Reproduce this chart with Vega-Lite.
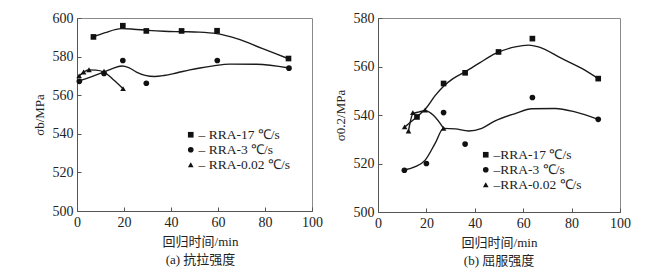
{
  "$schema": "https://vega.github.io/schema/vega-lite/v6.json",
  "padding": {"left": 32, "top": 10, "right": 0, "bottom": 0},
  "background": "white",
  "datasets": {
    "a_pts": [
      {"series": "RRA-17 ℃/s", "t": 7, "s": 590.2},
      {"series": "RRA-17 ℃/s", "t": 19.5, "s": 596},
      {"series": "RRA-17 ℃/s", "t": 29.5, "s": 593.3},
      {"series": "RRA-17 ℃/s", "t": 44.5, "s": 593.3},
      {"series": "RRA-17 ℃/s", "t": 59.6, "s": 593.4},
      {"series": "RRA-17 ℃/s", "t": 90, "s": 579},
      {"series": "RRA-3 ℃/s", "t": 1, "s": 567.2},
      {"series": "RRA-3 ℃/s", "t": 11.5, "s": 571.3},
      {"series": "RRA-3 ℃/s", "t": 19.5, "s": 578},
      {"series": "RRA-3 ℃/s", "t": 29.5, "s": 566.2},
      {"series": "RRA-3 ℃/s", "t": 59.7, "s": 578},
      {"series": "RRA-3 ℃/s", "t": 90.2, "s": 574},
      {"series": "RRA-0.02 ℃/s", "t": 0.9, "s": 570},
      {"series": "RRA-0.02 ℃/s", "t": 2.8, "s": 572},
      {"series": "RRA-0.02 ℃/s", "t": 5.1, "s": 573.2},
      {"series": "RRA-0.02 ℃/s", "t": 11.5, "s": 572.4},
      {"series": "RRA-0.02 ℃/s", "t": 19.6, "s": 563.4}
    ],
    "a_fit": [
      {"series": "RRA-17 ℃/s", "t": 7, "s": 590.2},
      {"series": "RRA-17 ℃/s", "t": 12, "s": 592.4},
      {"series": "RRA-17 ℃/s", "t": 19, "s": 594.5},
      {"series": "RRA-17 ℃/s", "t": 24, "s": 594.2},
      {"series": "RRA-17 ℃/s", "t": 30, "s": 593.6},
      {"series": "RRA-17 ℃/s", "t": 37, "s": 593.1},
      {"series": "RRA-17 ℃/s", "t": 44.5, "s": 592.9},
      {"series": "RRA-17 ℃/s", "t": 52, "s": 592.7},
      {"series": "RRA-17 ℃/s", "t": 59.5, "s": 591.9},
      {"series": "RRA-17 ℃/s", "t": 68, "s": 589.3},
      {"series": "RRA-17 ℃/s", "t": 79, "s": 584.1},
      {"series": "RRA-17 ℃/s", "t": 90, "s": 578.9},
      {"series": "RRA-3 ℃/s", "t": 1, "s": 567.4},
      {"series": "RRA-3 ℃/s", "t": 6, "s": 569.5},
      {"series": "RRA-3 ℃/s", "t": 11, "s": 571.8},
      {"series": "RRA-3 ℃/s", "t": 15, "s": 573.8},
      {"series": "RRA-3 ℃/s", "t": 19, "s": 575.1},
      {"series": "RRA-3 ℃/s", "t": 22, "s": 574.3},
      {"series": "RRA-3 ℃/s", "t": 25.3, "s": 572},
      {"series": "RRA-3 ℃/s", "t": 29, "s": 570.3},
      {"series": "RRA-3 ℃/s", "t": 33, "s": 569.7},
      {"series": "RRA-3 ℃/s", "t": 37, "s": 570.2},
      {"series": "RRA-3 ℃/s", "t": 42.3, "s": 571.5},
      {"series": "RRA-3 ℃/s", "t": 48, "s": 573.1},
      {"series": "RRA-3 ℃/s", "t": 52.3, "s": 574.1},
      {"series": "RRA-3 ℃/s", "t": 58, "s": 575.2},
      {"series": "RRA-3 ℃/s", "t": 65, "s": 576.1},
      {"series": "RRA-3 ℃/s", "t": 76.4, "s": 576},
      {"series": "RRA-3 ℃/s", "t": 90.2, "s": 574.1},
      {"series": "RRA-0.02 ℃/s", "t": 0.9, "s": 570},
      {"series": "RRA-0.02 ℃/s", "t": 2.8, "s": 572},
      {"series": "RRA-0.02 ℃/s", "t": 5.1, "s": 573.1},
      {"series": "RRA-0.02 ℃/s", "t": 8, "s": 573},
      {"series": "RRA-0.02 ℃/s", "t": 11.5, "s": 572},
      {"series": "RRA-0.02 ℃/s", "t": 15.5, "s": 568},
      {"series": "RRA-0.02 ℃/s", "t": 19.6, "s": 563.4}
    ],
    "b_pts": [
      {"series": "RRA-17 ℃/s", "t": 16.1, "s": 539.2},
      {"series": "RRA-17 ℃/s", "t": 27.1, "s": 553},
      {"series": "RRA-17 ℃/s", "t": 36, "s": 557.4},
      {"series": "RRA-17 ℃/s", "t": 49.8, "s": 566},
      {"series": "RRA-17 ℃/s", "t": 63.8, "s": 571.5},
      {"series": "RRA-17 ℃/s", "t": 91, "s": 555},
      {"series": "RRA-3 ℃/s", "t": 10.9, "s": 517.2},
      {"series": "RRA-3 ℃/s", "t": 20, "s": 520},
      {"series": "RRA-3 ℃/s", "t": 27.1, "s": 541},
      {"series": "RRA-3 ℃/s", "t": 36, "s": 528},
      {"series": "RRA-3 ℃/s", "t": 63.8, "s": 547.2},
      {"series": "RRA-3 ℃/s", "t": 91, "s": 538.2},
      {"series": "RRA-0.02 ℃/s", "t": 11, "s": 535.1},
      {"series": "RRA-0.02 ℃/s", "t": 12.6, "s": 533.4},
      {"series": "RRA-0.02 ℃/s", "t": 14.4, "s": 541},
      {"series": "RRA-0.02 ℃/s", "t": 19.5, "s": 542},
      {"series": "RRA-0.02 ℃/s", "t": 27.1, "s": 534.5}
    ],
    "b_fit": [
      {"series": "RRA-17 ℃/s", "t": 11, "s": 535},
      {"series": "RRA-17 ℃/s", "t": 14, "s": 537.5},
      {"series": "RRA-17 ℃/s", "t": 16.1, "s": 539.3},
      {"series": "RRA-17 ℃/s", "t": 20, "s": 543},
      {"series": "RRA-17 ℃/s", "t": 23.6, "s": 548},
      {"series": "RRA-17 ℃/s", "t": 27, "s": 551.8},
      {"series": "RRA-17 ℃/s", "t": 31, "s": 555},
      {"series": "RRA-17 ℃/s", "t": 36, "s": 557.8},
      {"series": "RRA-17 ℃/s", "t": 42, "s": 561.5},
      {"series": "RRA-17 ℃/s", "t": 48.4, "s": 565.3},
      {"series": "RRA-17 ℃/s", "t": 56.7, "s": 568.1},
      {"series": "RRA-17 ℃/s", "t": 62.2, "s": 568.8},
      {"series": "RRA-17 ℃/s", "t": 66.3, "s": 568.1},
      {"series": "RRA-17 ℃/s", "t": 75.9, "s": 563.3},
      {"series": "RRA-17 ℃/s", "t": 84.2, "s": 559.2},
      {"series": "RRA-17 ℃/s", "t": 91, "s": 555},
      {"series": "RRA-3 ℃/s", "t": 10.9, "s": 517.3},
      {"series": "RRA-3 ℃/s", "t": 15.4, "s": 518.7},
      {"series": "RRA-3 ℃/s", "t": 19.5, "s": 521.4},
      {"series": "RRA-3 ℃/s", "t": 23.6, "s": 528.3},
      {"series": "RRA-3 ℃/s", "t": 27.1, "s": 534.5},
      {"series": "RRA-3 ℃/s", "t": 31.9, "s": 534.3},
      {"series": "RRA-3 ℃/s", "t": 37.4, "s": 533.4},
      {"series": "RRA-3 ℃/s", "t": 42.9, "s": 534.5},
      {"series": "RRA-3 ℃/s", "t": 48.4, "s": 537.6},
      {"series": "RRA-3 ℃/s", "t": 56.7, "s": 540.6},
      {"series": "RRA-3 ℃/s", "t": 63.6, "s": 542.6},
      {"series": "RRA-3 ℃/s", "t": 73.2, "s": 542.7},
      {"series": "RRA-3 ℃/s", "t": 81.4, "s": 541.3},
      {"series": "RRA-3 ℃/s", "t": 91, "s": 538.2},
      {"series": "RRA-0.02 ℃/s", "t": 12.6, "s": 533.4},
      {"series": "RRA-0.02 ℃/s", "t": 14.4, "s": 540.5},
      {"series": "RRA-0.02 ℃/s", "t": 17, "s": 541.3},
      {"series": "RRA-0.02 ℃/s", "t": 19.5, "s": 541.8},
      {"series": "RRA-0.02 ℃/s", "t": 23, "s": 539.8},
      {"series": "RRA-0.02 ℃/s", "t": 27.1, "s": 534.5}
    ]
  },
  "spacing": 10,
  "resolve": {"scale": {"shape": "independent", "x": "independent", "y": "independent"}, "legend": {"shape": "independent"}},
  "hconcat": [
    {
      "width": 235,
      "height": 193,
      "title": {"text": "(a) 抗拉强度", "orient": "bottom", "offset": 6, "dx": 6},
      "encoding": {
        "x": {"field": "t", "type": "quantitative", "scale": {"domain": [0, 100]}, "axis": {"title": "回归时间/min", "titleX": 123, "values": [0, 20, 40, 60, 80, 100], "labelOverlap": false}},
        "y": {"field": "s", "type": "quantitative", "scale": {"domain": [500, 600]}, "axis": {"title": "σb/MPa", "values": [500, 520, 540, 560, 580, 600], "labelOverlap": false}}
      },
      "layer": [
        {
          "data": {"name": "a_fit"},
          "mark": {"type": "line", "interpolate": "monotone", "color": "#1a1a1a", "strokeWidth": 1.4},
          "encoding": {"detail": {"field": "series"}}
        },
        {
          "data": {"name": "a_pts"},
          "mark": {"type": "point", "filled": true, "color": "#111", "size": 32, "opacity": 1},
          "encoding": {
            "shape": {
              "field": "series", "type": "nominal",
              "scale": {"domain": ["RRA-17 ℃/s", "RRA-3 ℃/s", "RRA-0.02 ℃/s"], "range": ["square", "circle", "triangle-up"]},
              "legend": {"orient": "none", "legendX": 107, "legendY": 110, "title": null, "labelExpr": "'– ' + datum.label"}
            }
          }
        }
      ]
    },
    {
      "width": 242,
      "height": 194,
      "title": {"text": "(b) 屈服强度", "orient": "bottom", "offset": 6},
      "encoding": {
        "x": {"field": "t", "type": "quantitative", "scale": {"domain": [0, 100]}, "axis": {"title": "回归时间/min", "values": [0, 20, 40, 60, 80, 100], "labelOverlap": false}},
        "y": {"field": "s", "type": "quantitative", "scale": {"domain": [500, 580]}, "axis": {"title": "σ0.2/MPa", "values": [500, 520, 540, 560, 580], "labelOverlap": false}}
      },
      "layer": [
        {
          "data": {"name": "b_fit"},
          "mark": {"type": "line", "interpolate": "monotone", "color": "#1a1a1a", "strokeWidth": 1.4},
          "encoding": {"detail": {"field": "series"}}
        },
        {
          "data": {"name": "b_pts"},
          "mark": {"type": "point", "filled": true, "color": "#111", "size": 32, "opacity": 1},
          "encoding": {
            "shape": {
              "field": "series", "type": "nominal",
              "scale": {"domain": ["RRA-17 ℃/s", "RRA-3 ℃/s", "RRA-0.02 ℃/s"], "range": ["square", "circle", "triangle-up"]},
              "legend": {"orient": "none", "legendX": 101, "legendY": 130, "title": null, "labelExpr": "'–' + datum.label"}
            }
          }
        }
      ]
    }
  ],
  "config": {
    "font": "Liberation Serif, Noto Sans CJK SC",
    "view": {"stroke": "#8a8a8a", "strokeWidth": 1},
    "axis": {
      "grid": false,
      "domainColor": "#555",
      "tickColor": "#555",
      "tickSize": -4,
      "labelPadding": 8,
      "labelOverlap": false,
      "labelFont": "Liberation Serif",
      "labelFontSize": 14,
      "labelColor": "#222",
      "titleFont": "Liberation Serif, Noto Sans CJK SC",
      "titleFontSize": 13,
      "titleFontWeight": "normal",
      "titleColor": "#222"
    },
    "axisY": {"titlePadding": 6},
    "axisX": {"titlePadding": 6, "labelFlush": false},
    "legend": {
      "labelFont": "Liberation Serif",
      "labelFontSize": 13.5,
      "labelColor": "#222",
      "symbolSize": 32,
      "symbolFillColor": "#111",
      "symbolStrokeColor": "#111",
      "rowPadding": 0,
      "labelOffset": 1,
      "symbolStrokeWidth": 0
    },
    "title": {"font": "Liberation Serif, Noto Sans CJK SC", "fontSize": 13, "fontWeight": "normal", "color": "#222"}
  }
}
